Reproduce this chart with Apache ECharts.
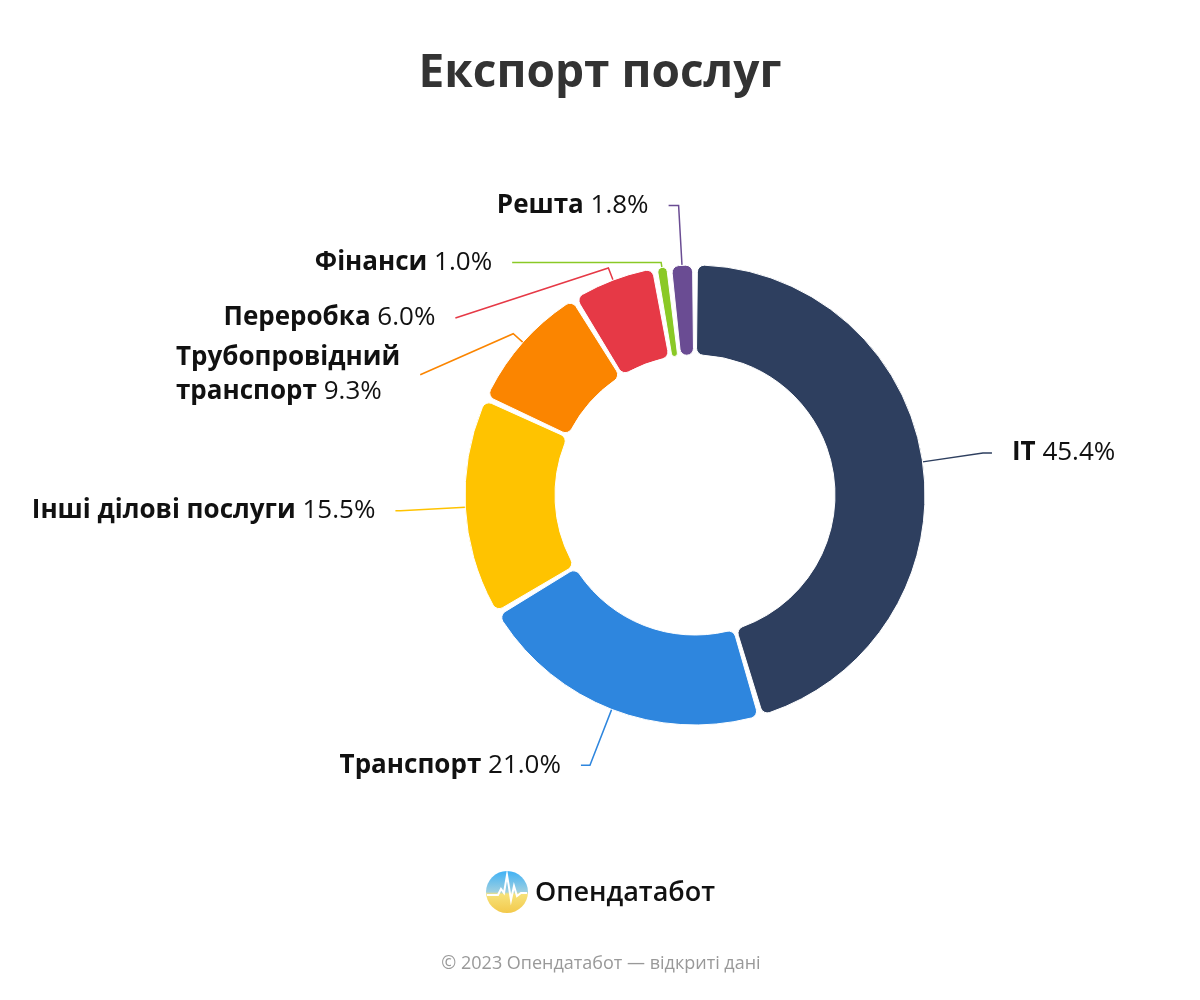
<!DOCTYPE html>
<html><head><meta charset="utf-8">
<script src="https://cdn.jsdelivr.net/npm/echarts@6/dist/echarts.min.js"></script>
<style>html,body{margin:0;padding:0;background:#fff}#c{width:1200px;height:1000px}</style>
</head><body><div id="c"></div>
<script>
const categories = ['IT', 'Транспорт', 'Інші ділові послуги', 'Трубопровідний\nтранспорт', 'Переробка', 'Фінанси', 'Решта'];
const values = [45.4, 21.0, 15.5, 9.3, 6.0, 1.0, 1.8];
const colors = ['#2e3f5f', '#2e86de', '#ffc300', '#fb8500', '#e63946', '#8ac926', '#6a4c93'];
// label line styling (per slice): first segment, second segment, extra vertical label offset
const lineLen = [61, 60, 65, 13, 13, 5, 60];
const lineLen2 = [9, 9, 5, 93, 153, 149, 10];
const labelShiftY = [0, 0, 0, 41, 50, 0, 0];

const chart = echarts.init(document.getElementById('c'), null, {renderer: 'canvas'});
const fontFam = '"Open Sans", "Noto Sans", sans-serif';
chart.setOption({
  animation: false,
  title: {
    text: 'Експорт послуг', left: 'center', top: 46,
    textStyle: {fontSize: 46, fontWeight: 'bold', color: '#333', fontFamily: fontFam}
  },
  graphic: [
    {type: 'circle', shape: {cx: 507, cy: 892, r: 21},
     style: {fill: new echarts.graphic.LinearGradient(0, 0, 0, 1, [
       {offset: 0, color: '#3fb1f5'}, {offset: 0.5, color: '#9fd0e0'}, {offset: 0.55, color: '#f6e27a'}, {offset: 1, color: '#f3c94b'}])}},
    {type: 'polyline', shape: {points: [[487,895],[498,895],[501,889],[504,893],[507,875],[511,900],[514,886],[517,896],[521,893],[527,893]]},
     style: {stroke: '#fff', lineWidth: 2, fill: null}},
    {type: 'text', x: 535, y: 893, style: {text: 'Опендатабот', fontSize: 27, fontWeight: 600, fill: '#111', fontFamily: fontFam, textVerticalAlign: 'middle'}},
    {type: 'text', x: 601, y: 964, style: {text: '© 2023 Опендатабот — відкриті дані', fontSize: 18, fill: '#999', fontFamily: fontFam, textAlign: 'center', textVerticalAlign: 'middle'}}
  ],
  series: [{
    type: 'pie',
    center: [695, 495],
    radius: [140, 230],
    startAngle: 90,
    clockwise: true,
    padAngle: 1.2,
    avoidLabelOverlap: false,
    itemStyle: {borderRadius: 7, borderColor: '#fff', borderWidth: 1},
    label: {
      show: true,
      distanceToLabelLine: 20,
      formatter: function (p) {
        const lines = p.name.split('\n');
        let s = lines.map(l => '{b|' + l + '}').join('\n');
        return s + '{v| ' + p.value.toFixed(1) + '%}';
      },
      rich: {
        b: {fontSize: 26, fontWeight: 'bold', color: '#111', fontFamily: fontFam, lineHeight: 34, align: 'left'},
        v: {fontSize: 26, color: '#111', fontFamily: fontFam, lineHeight: 34, align: 'left'}
      }
    },
    labelLine: {show: true, lineStyle: {width: 1.5}},
    labelLayout: function (params) {
      const dy = labelShiftY[params.dataIndex];
      if (!dy || !params.labelLinePoints) return {};
      const pts = params.labelLinePoints.map(p => [p[0], p[1]]);
      pts[2][1] += dy;
      return {dy: dy, labelLinePoints: pts};
    },
    data: categories.map((c, i) => ({
      name: c, value: values[i],
      itemStyle: {color: colors[i]},
      labelLine: {length: lineLen[i], length2: lineLen2[i], lineStyle: {color: colors[i]}}
    }))
  }]
});
</script></body></html>
